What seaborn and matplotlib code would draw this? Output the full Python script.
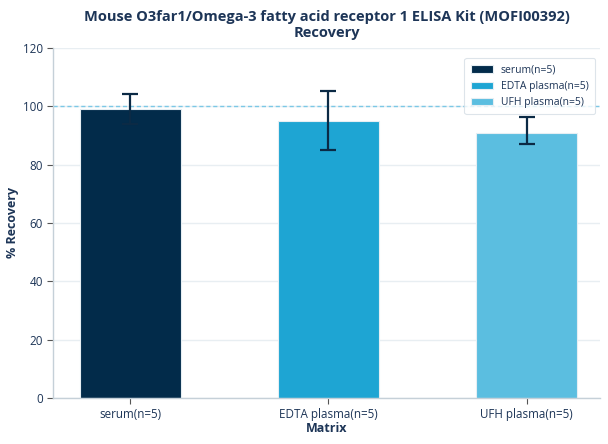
import matplotlib
matplotlib.use("Agg")
import matplotlib.pyplot as plt
import matplotlib.font_manager as fm
import seaborn as sns
import pandas as pd
import numpy as np

categories = ["serum(n=5)", "EDTA plasma(n=5)", "UFH plasma(n=5)"]
recovery = [99.0, 95.0, 90.8]
err_low = [94.0, 85.0, 87.1]
err_high = [104.1, 105.1, 96.2]
colors = ["#022B4A", "#1EA5D3", "#5BBEE0"]

title = "Mouse O3far1/Omega-3 fatty acid receptor 1 ELISA Kit (MOFI00392)\nRecovery"

sns.set_theme(style="white")
fams = sorted({f.name for f in fm.fontManager.ttflist if f.name in ("Noto Sans", "Open Sans") and f.weight in (700, "bold")})
fam = "Noto Sans" if "Noto Sans" in fams else "Open Sans"
plt.rcParams['font.family'] = [fam, 'DejaVu Sans']

text_col = "#1D3557"
dark = "#0B2A45"

df = pd.DataFrame({"Matrix": categories, "Recovery": recovery})

fig = plt.figure(figsize=(6.08, 4.44), dpi=100)
ax = fig.add_axes([0.087, 0.104, 0.90, 0.788])

sns.barplot(data=df, x="Matrix", y="Recovery", hue="Matrix", palette=colors,
            saturation=1, width=0.51, ax=ax, legend=True, edgecolor="#E6EEF3",
            linewidth=0.8, order=categories, hue_order=categories)

xs = np.arange(len(categories))
lower = np.array(recovery) - np.array(err_low)
upper = np.array(err_high) - np.array(recovery)
ax.errorbar(xs, recovery, yerr=[lower, upper], fmt="none", ecolor=dark,
            elinewidth=1.6, capsize=5.8, capthick=1.6, zorder=5)

ax.axhline(100, color="#7CC8E6", linestyle=(0, (3, 2)), linewidth=1.0, zorder=1)

ax.set_ylim(0, 120)
ax.set_yticks([0, 20, 40, 60, 80, 100, 120])
ax.set_xlim(-0.39, 2.37)
ax.yaxis.grid(True, color="#E8EEF2", linewidth=1.0)
ax.set_axisbelow(True)

for s in ["top", "right"]:
    ax.spines[s].set_visible(False)
for s in ["left", "bottom"]:
    ax.spines[s].set_color("#C5D0D8")
    ax.spines[s].set_linewidth(1.0)

ax.tick_params(axis="both", colors="#555555", labelcolor=text_col, labelsize=8.4,
               length=4, width=0.8, left=True, bottom=True, pad=3)

ax.set_xlabel("Matrix", fontsize=9, fontweight="bold", color=text_col, labelpad=1)
ax.set_ylabel("% Recovery", fontsize=9, fontweight="bold", color=text_col)
ax.yaxis.set_label_coords(-0.062, 0.5)
ax.set_title(title, fontsize=10.5, fontweight="bold", color=text_col, pad=8)

leg = ax.legend(loc="upper right", fontsize=7.5, frameon=True, handlelength=2.1,
                handleheight=0.7, borderpad=0.6, labelspacing=0.5,
                bbox_to_anchor=(1.0, 0.985))
leg.get_frame().set_edgecolor("#D5DEE5")
leg.get_frame().set_linewidth(0.8)
for t in leg.get_texts():
    t.set_color(text_col)

fig.savefig("out.png", dpi=100)
